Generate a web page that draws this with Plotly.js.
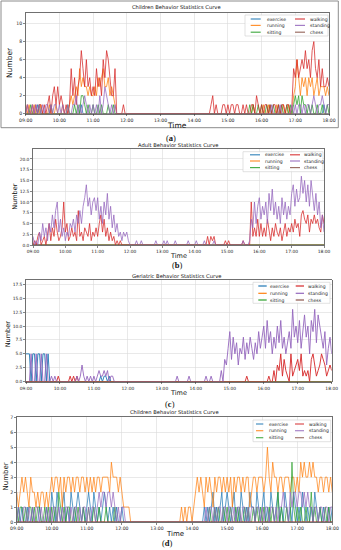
<!DOCTYPE html>
<html><head><meta charset="utf-8">
<script src="https://cdn.plot.ly/plotly-3.0.1.min.js"></script>
<style>html,body{margin:0;padding:0;background:#fff;}#chart{width:341px;height:550px;}</style>
</head><body><div id="chart"></div>
<script>
// ---------- categories / ticks ----------
const seriesNames = ['exercise','running','sitting','walking','standing','chess'];
const seriesColors = ['#1f77b4','#ff7f0e','#2ca02c','#d62728','#9467bd','#8c564b'];
const tickVals = [9,10,11,12,13,14,15,16,17,18];
const tickText = ['09:00','10:00','11:00','12:00','13:00','14:00','15:00','16:00','17:00','18:00'];
const stepMinutes = 3;   // one sample every 3 minutes, 09:00 .. 18:00
const sampleCount = 181;
const hours = Array.from({length: sampleCount}, (_, i) => 9 + i * stepMinutes / 60);

// ---------- series values (rows = one hour, 20 samples each) ----------
const allZero = [
0,0,0,0,0,0,0,0,0,0,0,0,0,0,0,0,0,0,0,0,
0,0,0,0,0,0,0,0,0,0,0,0,0,0,0,0,0,0,0,0,
0,0,0,0,0,0,0,0,0,0,0,0,0,0,0,0,0,0,0,0,
0,0,0,0,0,0,0,0,0,0,0,0,0,0,0,0,0,0,0,0,
0,0,0,0,0,0,0,0,0,0,0,0,0,0,0,0,0,0,0,0,
0,0,0,0,0,0,0,0,0,0,0,0,0,0,0,0,0,0,0,0,
0,0,0,0,0,0,0,0,0,0,0,0,0,0,0,0,0,0,0,0,
0,0,0,0,0,0,0,0,0,0,0,0,0,0,0,0,0,0,0,0,
0,0,0,0,0,0,0,0,0,0,0,0,0,0,0,0,0,0,0,0,
0];

// (a) Children
const exA = [
0,0,0,0,0,0,0,1,0,0,0,0,0,0,0,0,0,0,0,0,
0,0,0,0,0,0,0,0,0,0,0,0,0,1,0,0,0,0,0,0,
0,0,0,0,0,0,0,0,0,0,0,0,0,0,0,0,0,0,0,0,
0,0,0,0,0,0,0,0,0,0,0,0,0,0,0,0,0,0,0,0,
0,0,0,0,0,0,0,0,0,0,0,0,0,0,0,0,0,0,0,0,
0,0,0,0,0,0,0,0,0,0,0,0,0,0,0,0,0,0,0,0,
0,0,0,0,0,0,0,0,0,0,0,0,0,0,0,0,0,0,0,0,
0,0,0,0,0,0,0,0,0,0,0,0,0,0,0,0,0,0,0,0,
0,0,0,0,0,0,0,0,0,0,0,0,0,0,0,0,0,1,0,0,
0];
const runA = [
1,0,1,0,0,1,0,0,0,1,0,0,0,0,1,0,0,0,1,0,
0,0,1,0,0,0,1,2,1,2,3,2,5,3,4,3,3,2,3,2,
2,3,2,4,3,4,5,3,3,4,2,3,2,1,0,0,0,0,0,0,
0,0,0,0,0,0,0,0,0,0,0,0,0,0,0,0,0,0,0,0,
0,0,0,0,0,0,0,0,0,0,0,0,0,0,0,0,0,0,0,0,
0,0,0,0,0,0,0,0,0,0,0,0,0,0,0,0,0,0,0,0,
0,0,0,0,0,0,0,0,0,0,0,0,0,0,0,1,0,0,0,0,
0,1,0,0,1,0,0,0,0,1,0,0,0,1,0,0,1,0,0,2,
3,6,4,2,4,3,4,2,4,3,4,2,3,4,2,3,3,3,2,3,
2];
const sitA = [
0,0,0,1,0,0,0,0,1,0,0,0,0,0,0,1,0,0,0,0,
0,0,0,0,0,1,0,0,0,1,0,1,0,2,2,1,0,1,0,0,
1,0,0,1,0,1,0,0,0,1,0,0,1,0,0,0,0,0,0,0,
0,0,0,0,0,0,0,0,0,0,0,0,0,0,0,0,0,0,0,0,
0,0,0,0,0,0,0,0,0,0,0,0,0,0,0,0,0,0,0,0,
0,0,0,0,0,0,0,0,0,0,0,0,0,0,0,0,0,0,0,0,
0,0,0,0,0,0,0,0,0,0,0,0,0,1,0,1,0,0,1,0,
1,0,0,1,0,1,0,1,0,0,1,0,1,0,0,1,0,1,0,1,
2,1,2,0,2,1,1,0,1,0,1,0,0,1,0,0,1,0,0,1,
0];
const walkA = [
0,1,0,0,1,0,1,0,1,1,0,1,0,1,2,0,2,3,1,3,
1,2,1,0,1,0,1,5,2,4,1,3,4,7,5,3,6,3,4,2,
3,2,5,3,4,2,6,4,7,6,4,2,2,5,0,0,0,0,1,0,
0,0,0,0,0,0,0,0,0,0,0,0,0,0,0,0,0,0,0,0,
0,0,0,0,0,0,0,0,0,0,0,0,0,0,0,0,0,0,0,0,
0,0,0,0,0,0,0,0,0,0,1,2,0,1,0,0,0,1,1,0,
1,0,1,1,0,1,1,0,0,1,0,1,0,0,1,1,0,2,1,0,
1,0,1,1,0,1,0,1,1,0,1,0,1,1,0,1,1,0,1,5,
4,6,4,5,6,5,7,5,6,4,7,8,5,4,6,3,5,3,3,4,
3];
const standA = [
0,1,0,0,1,0,1,0,1,0,1,0,1,1,0,1,0,1,1,0,
1,0,1,0,0,1,0,0,1,1,2,0,1,0,1,2,1,0,1,0,
1,0,1,0,2,0,1,3,2,1,0,1,0,1,0,0,0,0,0,0,
0,0,0,0,0,0,0,0,0,0,0,0,0,0,0,0,0,0,0,0,
0,0,0,0,0,0,0,0,0,0,0,0,0,0,0,0,0,0,0,0,
0,0,0,0,0,0,0,0,0,0,0,0,0,0,0,0,0,0,0,0,
0,0,0,0,0,0,0,0,0,0,0,0,0,0,0,0,0,0,0,0,
0,0,0,0,0,0,1,0,0,0,0,1,0,0,0,0,0,0,1,0,
1,0,1,1,0,1,0,1,1,0,1,2,1,0,1,1,2,1,0,1,
1];

// (b) Adult
const walkB = [
0,1,0,2,3,0,1,2,0,3,5,1,4,2,6,3,1,2,4,10,
3,5,1,2,4,2,3,1,8,2,3,1,4,3,2,5,1,3,2,4,
2,5,7,3,6,2,4,1,3,1,2,0,1,0,1,0,0,0,0,0,
0,0,0,0,0,0,0,0,0,0,0,0,0,0,0,0,0,0,0,0,
0,0,0,0,0,0,0,0,0,0,0,0,0,0,0,0,0,0,0,0,
0,0,0,0,0,0,0,0,2,0,2,1,2,0,0,0,0,0,0,1,
0,1,0,0,0,0,0,0,0,0,1,0,0,0,0,10,2,4,2,6,
2,5,2,4,2,6,3,1,4,2,5,3,2,4,1,3,5,2,4,3,
5,3,6,4,5,2,7,8,6,5,7,3,6,5,7,5,6,4,3,7,
5];
const standB = [
2,0,1,0,3,1,5,2,4,1,5,3,7,4,8,10,3,6,2,4,
1,3,2,5,4,6,3,7,5,8,5,9,11,14,9,11,7,10,11,8,
11,6,9,5,10,7,12,6,9,4,7,3,5,2,3,1,3,2,3,1,
0,0,0,0,1,0,0,1,0,0,0,0,0,0,0,0,1,0,0,0,
0,1,0,1,0,0,0,0,1,0,0,0,0,0,0,0,1,0,0,0,
0,1,0,0,0,0,1,0,0,0,0,0,1,0,0,0,0,0,0,0,
0,0,0,0,0,0,0,0,0,0,1,0,0,0,1,6,4,10,5,9,
11,6,9,7,10,5,12,8,13,7,10,6,9,5,11,7,10,6,9,7,
12,14,9,13,10,11,16,12,15,10,14,9,15,11,8,12,7,10,4,7,
3];

// (c) Geriatric
const exC = [
5,5,5,0,5,5,0,5,5,0,5,5,0,5,0,0,0,0,0,0,
0,0,0,0,0,0,0,0,0,0,0,0,0,0,0,0,0,0,0,0,
0,0,0,0,1,0,1,1,0,1,0,0,0,0,0,0,0,0,0,0,
0,0,0,0,0,0,0,0,0,0,0,0,0,0,0,0,0,0,0,0,
0,0,0,0,0,0,0,0,0,0,0,0,0,0,0,0,0,0,0,0,
0,0,0,0,0,0,0,0,0,0,0,0,0,0,0,0,0,0,0,0,
0,0,0,0,0,0,0,0,0,0,0,0,0,0,0,0,0,0,0,0,
0,0,0,0,0,0,0,0,0,0,0,0,0,0,0,0,0,0,0,0,
0,0,0,0,0,0,0,0,0,0,0,0,0,0,0,0,0,0,0,0,
0];
const walkC = [
0,0,0,0,0,0,0,0,0,0,0,0,0,0,0,0,0,0,0,1,
0,0,0,0,0,0,1,0,1,0,1,0,0,0,0,0,0,0,0,0,
0,0,0,0,0,0,0,0,0,0,0,0,0,0,0,0,0,0,0,0,
0,0,0,0,0,0,0,0,0,0,0,0,0,0,0,0,0,0,0,0,
0,0,0,0,0,0,0,0,0,0,0,0,0,0,0,0,0,0,0,0,
0,0,0,0,0,0,0,0,0,0,0,0,0,0,0,0,0,0,0,0,
0,0,0,0,0,0,0,0,0,0,1,0,0,0,0,0,0,0,0,0,
0,0,0,1,0,0,2,0,3,2,5,1,4,2,1,0,5,1,2,3,
4,2,5,1,2,1,2,0,4,5,3,1,2,3,5,4,3,1,2,3,
2];
const standC = [
0,0,0,5,0,0,5,0,0,5,0,0,5,0,0,1,0,1,0,0,
0,0,0,0,0,0,0,0,0,0,1,0,1,3,1,0,1,0,1,0,
1,0,1,2,1,1,2,1,2,0,1,1,0,0,0,0,0,0,0,0,
0,0,0,0,0,0,0,0,0,0,0,0,0,0,0,0,0,0,0,0,
0,0,0,0,0,0,0,0,0,1,0,0,0,0,0,0,1,0,0,0,
0,0,0,0,0,0,1,0,0,1,0,0,0,0,0,2,0,4,3,6,
9,4,8,5,7,3,6,5,8,4,7,5,8,6,4,7,5,9,6,8,
10,6,11,7,9,5,8,6,10,7,11,6,8,5,7,9,6,13,8,10,
7,11,6,9,12,8,10,5,11,9,13,7,12,10,8,6,9,3,6,8,
5];

// (d) Children
const exD = [
0,1,0,1,0,0,1,0,0,1,0,0,0,1,0,0,0,1,0,0,
2,1,0,2,1,0,1,2,0,1,0,2,1,0,1,2,1,0,1,0,
1,2,1,0,2,1,0,1,0,1,2,1,0,1,0,1,0,1,0,0,
1,0,0,0,0,0,0,0,0,0,0,0,0,0,0,0,0,0,0,0,
0,0,0,0,0,0,0,0,0,0,0,0,0,0,0,0,0,0,0,0,
0,0,0,0,0,0,0,1,0,1,0,1,2,0,1,0,1,2,0,1,
2,1,0,1,2,0,1,0,2,1,0,1,0,2,1,1,0,2,1,0,
1,2,0,1,0,2,1,0,1,2,0,1,0,2,1,0,1,0,2,1,
0,1,0,2,1,0,1,0,1,0,2,1,0,1,0,1,0,0,1,0,
1];
const runD = [
2,1,2,3,2,3,2,1,3,2,2,1,2,1,2,2,1,2,1,2,
3,2,3,3,2,3,1,3,2,3,3,2,3,2,3,3,2,3,3,2,
3,2,3,2,3,2,3,3,2,3,3,3,3,2,4,3,3,3,2,3,
2,1,1,1,1,0,0,0,0,0,0,0,0,0,0,0,0,0,0,0,
0,0,0,0,0,0,0,0,0,0,0,0,0,0,1,0,1,0,1,1,
0,1,2,3,2,3,2,1,3,2,3,2,1,3,2,3,3,2,3,2,
3,2,3,1,3,2,3,3,2,3,2,3,3,1,2,3,3,2,3,3,
3,2,3,5,3,2,4,3,3,2,3,3,2,3,3,3,2,3,3,2,
3,2,4,3,4,3,3,4,3,4,3,3,2,3,3,2,3,3,2,3,
2];
const sitD = [
1,0,1,1,0,1,0,1,1,0,1,0,1,1,0,0,1,0,1,0,
1,0,1,0,2,1,0,1,0,1,1,0,0,1,0,1,0,0,1,0,
0,1,0,0,1,0,0,1,0,0,0,1,0,0,0,0,1,0,0,0,
0,0,0,0,0,0,0,0,0,0,0,0,0,0,0,0,0,0,0,0,
0,0,0,0,0,0,0,0,0,0,0,0,0,0,0,0,0,0,0,0,
0,0,0,0,0,0,0,0,0,0,1,0,0,1,0,1,0,0,1,0,
1,0,1,0,0,1,0,1,0,0,1,0,1,0,0,1,0,1,0,1,
0,1,0,0,1,0,1,0,0,2,0,1,0,0,1,0,0,4,1,0,
1,0,1,0,0,1,0,0,2,0,1,0,0,1,0,0,1,0,1,0,
0];
const standD = [
0,1,0,0,1,1,0,1,0,1,0,1,1,0,1,0,0,1,0,1,
0,1,1,0,1,0,1,0,1,1,0,1,0,1,1,0,1,0,1,1,
0,1,0,1,1,0,1,2,1,2,2,1,2,2,1,2,1,0,1,0,
1,1,0,0,0,0,0,0,0,0,0,0,0,0,0,0,0,0,0,0,
0,0,0,0,0,0,0,0,0,0,0,0,0,0,0,0,0,0,0,0,
0,0,0,0,0,0,0,0,1,0,1,1,0,1,0,1,1,0,1,1,
0,1,1,0,1,0,1,1,0,1,1,0,1,0,1,1,0,1,1,0,
1,0,1,1,0,1,1,0,1,0,1,1,2,1,1,0,2,1,2,2,
1,2,2,1,2,1,2,1,1,0,1,1,0,1,1,0,1,1,0,1,
1];

// ---------- panel configuration (layout only) ----------
const W = 341, H = 550;
const fx = p => p / W;
const fy = p => 1 - p / H;

const panels = [
  {title:'Children Behavior Statistics Curve', label:'a',
   series:[exA, runA, sitA, walkA, standA, allZero],
   left:25.7, right:329, top:12.7, bottom:113.7, ymax:11.2, dtick:2, fmt:'d', alpha:0.85,
   titleX:176.3, titleY:6.7, labelX:170.5, labelY:137.5, lblSize:7.5, tickSize:4.6,
   timeX:176.7, timeY:125.8, numX:10, numY:63,
   legend:{box:[245,15,328,36], rows:[19,25.4,32.2], c1:[250.7,260.7,264.5], c2:[295,305,308]}},
  {title:'Adult Behavior Statistics Curve', label:'b',
   series:[allZero, allZero, allZero, walkB, standB, allZero],
   left:33, right:324, top:149.3, bottom:245, ymax:22.25, dtick:2.5, fmt:'.1f', alpha:0.85,
   titleX:178.3, titleY:144.6, labelX:177, labelY:265.5, lblSize:6.5, tickSize:4.4,
   timeX:178, timeY:256.3, numX:15, numY:196.7,
   legend:{box:[243,151.7,323,171.7], rows:[154.8,161,167.6], c1:[250,260,263.3], c2:[290,300,301.7]}},
  {title:'Geriatric Behavior Statistics Curve', label:'c',
   series:[exC, allZero, allZero, walkC, standC, allZero],
   left:26, right:331.7, top:280, bottom:381.7, ymax:18.27, dtick:2.5, fmt:'.1f', alpha:1,
   titleX:176.7, titleY:275.7, labelX:170, labelY:403.5, lblSize:6.5, tickSize:4.4,
   timeX:178, timeY:393, numX:8.3, numY:334,
   legend:{box:[253,282.3,330,303.3], rows:[286,293.3,300], c1:[258.3,266.7,268.3], c2:[295.7,304,305.7]}},
  {title:'Children Behavior Statistics Curve', label:'d',
   series:[exD, runD, sitD, allZero, standD, allZero],
   left:16.7, right:332.3, top:417.3, bottom:522, ymax:7, dtick:1, fmt:'d', alpha:0.8,
   titleX:174.7, titleY:411.7, labelX:167.5, labelY:542.5, lblSize:7, tickSize:4.6,
   timeX:175, timeY:533.6, numX:5.7, numY:476.7,
   legend:{box:[253,420,330.7,441.7], rows:[424,430.7,437.7], c1:[256,263.3,266.7], c2:[295,304,306.7]}}
];

const traces = [];
const layout = {
  width: W, height: H, margin:{l:0,r:0,t:0,b:0},
  paper_bgcolor:'#ffffff', plot_bgcolor:'#ffffff',
  font:{family:'DejaVu Sans, sans-serif', color:'#222'},
  showlegend:false, hovermode:false,
  shapes:[], annotations:[]
};

// outer frame around panel (a)
layout.shapes.push({type:'rect', xref:'paper', yref:'paper',
  x0:fx(1), x1:fx(338.3), y0:fy(127.7), y1:fy(1),
  line:{color:'#8c8c8c', width:1}, fillcolor:'rgba(0,0,0,0)', layer:'below'});

panels.forEach((p, k) => {
  const n = k === 0 ? '' : String(k + 1);
  p.series.forEach((vals, s) => {
    traces.push({
      type:'scatter', mode:'lines', name:seriesNames[s],
      x:hours, y:vals, xaxis:'x' + n, yaxis:'y' + n,
      line:{color:seriesColors[s], width:0.9}, opacity:p.alpha,
      hoverinfo:'skip'
    });
  });
  layout['xaxis' + n] = {
    domain:[fx(p.left), fx(p.right)], anchor:'y' + n, range:[9, 18],
    tickmode:'array', tickvals:tickVals, ticktext:tickText,
    ticks:'outside', ticklen:2, tickwidth:0.6, tickcolor:'#333',
    tickfont:{size:p.tickSize, color:'#222'},
    showgrid:true, gridcolor:'#dadada', gridwidth:0.6, zeroline:false,
    showline:true, linecolor:'#333', linewidth:0.7, mirror:true,
    automargin:false, fixedrange:true
  };
  layout['yaxis' + n] = {
    domain:[fy(p.bottom), fy(p.top)], anchor:'x' + n, range:[0, p.ymax],
    tick0:0, dtick:p.dtick, tickformat:p.fmt,
    ticks:'outside', ticklen:2, tickwidth:0.6, tickcolor:'#333',
    tickfont:{size:p.tickSize, color:'#222'},
    showgrid:true, gridcolor:'#dadada', gridwidth:0.6, zeroline:false,
    showline:true, linecolor:'#333', linewidth:0.7, mirror:true,
    automargin:false, fixedrange:true
  };
  // axis titles
  layout.annotations.push({xref:'paper', yref:'paper', x:fx(p.timeX), y:fy(p.timeY),
    xanchor:'center', yanchor:'middle', showarrow:false, text:'Time',
    font:{size:p.lblSize, color:'#111'}});
  layout.annotations.push({xref:'paper', yref:'paper', x:fx(p.numX), y:fy(p.numY),
    xanchor:'center', yanchor:'middle', showarrow:false, text:'Number', textangle:-90,
    font:{size:p.lblSize, color:'#111'}});
  // chart title
  layout.annotations.push({xref:'paper', yref:'paper', x:fx(p.titleX), y:fy(p.titleY),
    xanchor:'center', yanchor:'middle', showarrow:false, text:p.title,
    font:{size:5.2, color:'#111'}});
  // panel label
  layout.annotations.push({xref:'paper', yref:'paper', x:fx(p.labelX), y:fy(p.labelY),
    xanchor:'center', yanchor:'middle', showarrow:false, text:'(<b>' + p.label + '</b>)',
    font:{size:8.5, family:'Liberation Serif, serif', color:'#111'}});
  // legend box (two columns, matplotlib style)
  const L = p.legend;
  layout.shapes.push({type:'rect', xref:'paper', yref:'paper',
    x0:fx(L.box[0]), x1:fx(L.box[2]), y0:fy(L.box[3]), y1:fy(L.box[1]),
    line:{color:'#cfcfcf', width:0.6}, fillcolor:'rgba(255,255,255,0.85)', layer:'above'});
  seriesNames.forEach((name, s) => {
    const col = s < 3 ? L.c1 : L.c2;
    const ry = L.rows[s % 3];
    layout.shapes.push({type:'line', xref:'paper', yref:'paper',
      x0:fx(col[0]), x1:fx(col[1]), y0:fy(ry), y1:fy(ry),
      line:{color:seriesColors[s], width:1.2}, opacity:p.alpha, layer:'above'});
    layout.annotations.push({xref:'paper', yref:'paper', x:fx(col[2]), y:fy(ry),
      xanchor:'left', yanchor:'middle', showarrow:false, text:name,
      font:{size:4.6, color:'#222'}});
  });
});

Plotly.newPlot('chart', traces, layout, {staticPlot:true, displayModeBar:false});
</script>
</body></html>
